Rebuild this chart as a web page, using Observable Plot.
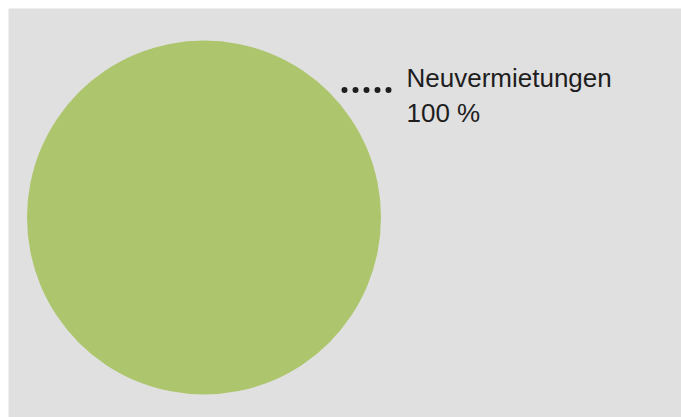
<!DOCTYPE html>
<html>
<head>
<meta charset="utf-8">
<script src="https://cdn.jsdelivr.net/npm/d3@7"></script>
<script src="https://cdn.jsdelivr.net/npm/@observablehq/plot@0.6"></script>
<style>
  html, body { margin: 0; padding: 0; background: #ffffff; }
  svg { display: block; }
</style>
</head>
<body>
<div id="chart"></div>
<script>
// Data
const categories = ["Neuvermietungen"];
const shares = [100];
const shareLabels = ["100 %"];

// Layout (pixel space)
const W = 681, H = 417;
const cx = 203.5, cy = 217, R = 177;
const leaderX1 = 344, leaderX2 = 389, leaderY = 89.5;
const labelX = 406, labelY = 61;

const rows = categories.map((c, i) => ({category: c, share: shares[i], label: shareLabels[i]}));

const chart = Plot.plot({
  width: W,
  height: H,
  marginLeft: 8, marginTop: 8, marginRight: 0, marginBottom: 0,
  x: {domain: [8, W], range: [8, W], axis: null},
  y: {domain: [8, H], range: [8, H], axis: null},
  r: {type: "linear", domain: [0, d3.sum(shares)], range: [0, R]},
  style: {fontFamily: "'Liberation Sans', Arial, sans-serif", background: "transparent"},
  marks: [
    Plot.frame({fill: "#e0e0e0", stroke: null}),
    Plot.dot(rows, {x: () => cx, y: () => cy, r: "share", fill: "#adc56c", stroke: null}),
    Plot.link(rows, {x1: () => leaderX1, x2: () => leaderX2, y1: () => leaderY, y2: () => leaderY,
      stroke: "#1e1e1e", strokeWidth: 6, strokeDasharray: "0,11", strokeLinecap: "round"}),
    Plot.text(rows, {x: () => labelX, y: () => labelY,
      text: d => d.category + "\n" + d.label,
      textAnchor: "start", lineAnchor: "top", lineHeight: 1.36,
      fontSize: 26, fill: "#1e1e1e"})
  ]
});
document.getElementById("chart").appendChild(chart);
</script>
</body>
</html>
